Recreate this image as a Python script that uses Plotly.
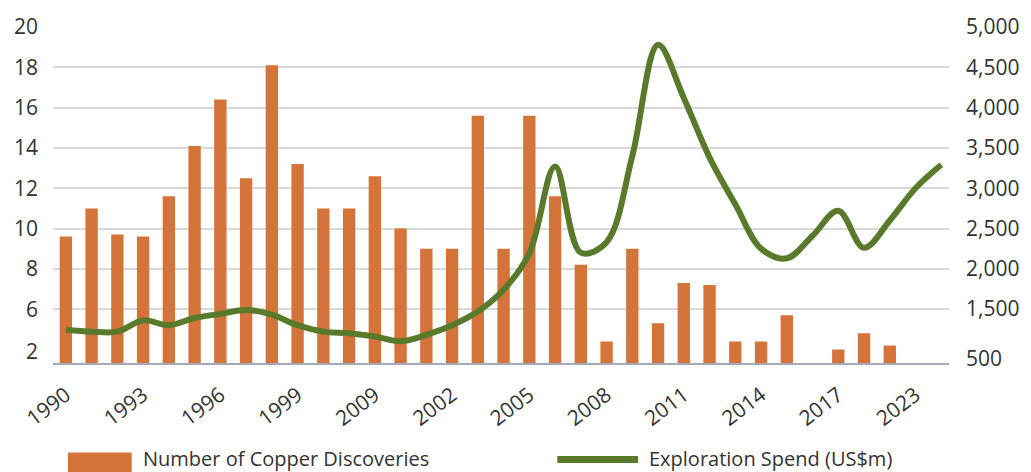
import plotly.graph_objects as go

# Years on the category axis (the spend line runs one year past the last labelled tick)
years = [str(y) for y in range(1990, 2025)]

# Number of copper discoveries per year (None = no discovery bar drawn)
discoveries = [9.6, 11.0, 9.7, 9.6, 11.6, 14.1, 16.4, 12.5, 18.1, 13.2,
               11.0, 11.0, 12.6, 10.0, 9.0, 9.0, 15.6, 9.0, 15.6, 11.6,
               8.2, 4.4, 9.0, 5.3, 7.3, 7.2, 4.4, 4.4, 5.7, None,
               4.0, 4.8, 4.2, None, None]

# Exploration spend, US$m
spend = [1240, 1220, 1220, 1360, 1300, 1390, 1440, 1490, 1430, 1300,
         1220, 1200, 1160, 1100, 1180, 1300, 1470, 1740, 2190, 3270,
         2200, 2330, 3400, 4780, 4120, 3380, 2800, 2250, 2130, 2410,
         2720, 2260, 2600, 3000, 3290]

# Axis ticks as printed on the chart
x_tick_years = years[0:34:3]
x_tick_text = ["1990", "1993", "1996", "1999", "2009", "2002",
               "2005", "2008", "2011", "2014", "2017", "2023"]

left_tick_vals = [3.88, 6, 8, 10, 12, 14, 16, 18, 20]
left_tick_text = ["2", "6", "8", "10", "12", "14", "16", "18", "20"]
grid_vals = [6, 8, 10, 12, 14, 16, 18, 20]

right_tick_vals = [885, 1500, 2000, 2500, 3000, 3500, 4000, 4500, 5000]
right_tick_text = ["500", "1,500", "2,000", "2,500", "3,000",
                   "3,500", "4,000", "4,500", "5,000"]

BAR_COLOR = "#D4743A"
LINE_COLOR = "#5A7A2B"
TEXT_COLOR = "#333333"
FONT = "Open Sans"

W, H = 1031, 472
ML, MR, MT, MB = 53, 79, 25, 109
PW, PH = W - ML - MR, H - MT - MB


def px_x(px):
    return (px - ML) / PW


def px_y(py):
    return (H - MB - py) / PH


LEFT_RANGE = [3.33, 20]
RIGHT_RANGE = [831, 5000]

fig = go.Figure()

fig.add_trace(go.Bar(
    x=years, y=discoveries, name="Number of Copper Discoveries",
    marker=dict(color=BAR_COLOR, line=dict(width=0)),
    yaxis="y", showlegend=False,
))

fig.add_trace(go.Scatter(
    x=years, y=spend, name="Exploration Spend (US$m)",
    mode="lines", line=dict(color=LINE_COLOR, width=6, shape="spline", smoothing=1.0),
    yaxis="y2", showlegend=False,
))

# invisible carrier for the gridline axis
fig.add_trace(go.Scatter(x=[], y=[], yaxis="y3", showlegend=False, hoverinfo="skip"))

fig.update_layout(
    width=W, height=H,
    margin=dict(l=ML, r=MR, t=MT, b=MB),
    paper_bgcolor="white", plot_bgcolor="white",
    font=dict(family=FONT, color=TEXT_COLOR, size=20),
    bargap=0.52,
    xaxis=dict(
        type="category", categoryorder="array", categoryarray=years,
        range=[-0.5, 34.3],
        tickmode="array", tickvals=x_tick_years, ticktext=x_tick_text,
        tickangle=-37, tickfont=dict(size=21, color=TEXT_COLOR),
        ticks="", ticklabelstandoff=10,
        showgrid=False, zeroline=False,
        showline=True, linecolor="#A3AAB8", linewidth=1.5,
    ),
    yaxis=dict(
        range=LEFT_RANGE, tickmode="array",
        tickvals=left_tick_vals, ticktext=left_tick_text,
        tickfont=dict(size=21, color=TEXT_COLOR),
        showgrid=False, zeroline=False, ticks="", ticklabelstandoff=14,
    ),
    yaxis2=dict(
        range=RIGHT_RANGE, overlaying="y", side="right", tickmode="array",
        tickvals=right_tick_vals, ticktext=right_tick_text,
        tickfont=dict(size=21, color=TEXT_COLOR),
        showgrid=False, zeroline=False, ticks="", ticklabelstandoff=16,
    ),
    yaxis3=dict(
        range=LEFT_RANGE, overlaying="y", tickmode="array", tickvals=grid_vals,
        showticklabels=False, showgrid=True, gridcolor="#D9D9D9", gridwidth=1.5,
        zeroline=False, ticks="",
    ),
)

# legend row along the bottom edge
fig.add_shape(type="rect", xref="paper", yref="paper",
              x0=px_x(68), x1=px_x(132), y0=px_y(478), y1=px_y(453),
              fillcolor=BAR_COLOR, line=dict(width=0), layer="above")
fig.add_annotation(text="Number of Copper Discoveries", xref="paper", yref="paper",
                   x=px_x(141), y=px_y(459), xanchor="left", yanchor="middle",
                   showarrow=False, font=dict(size=20, color=TEXT_COLOR, family=FONT))
fig.add_shape(type="line", xref="paper", yref="paper",
              x0=px_x(559), x1=px_x(640), y0=px_y(460), y1=px_y(460),
              line=dict(color=LINE_COLOR, width=7), layer="above")
fig.add_annotation(text="Exploration Spend (US$m)", xref="paper", yref="paper",
                   x=px_x(649), y=px_y(459), xanchor="left", yanchor="middle",
                   showarrow=False, font=dict(size=20, color=TEXT_COLOR, family=FONT))

fig.write_html("out.html")
